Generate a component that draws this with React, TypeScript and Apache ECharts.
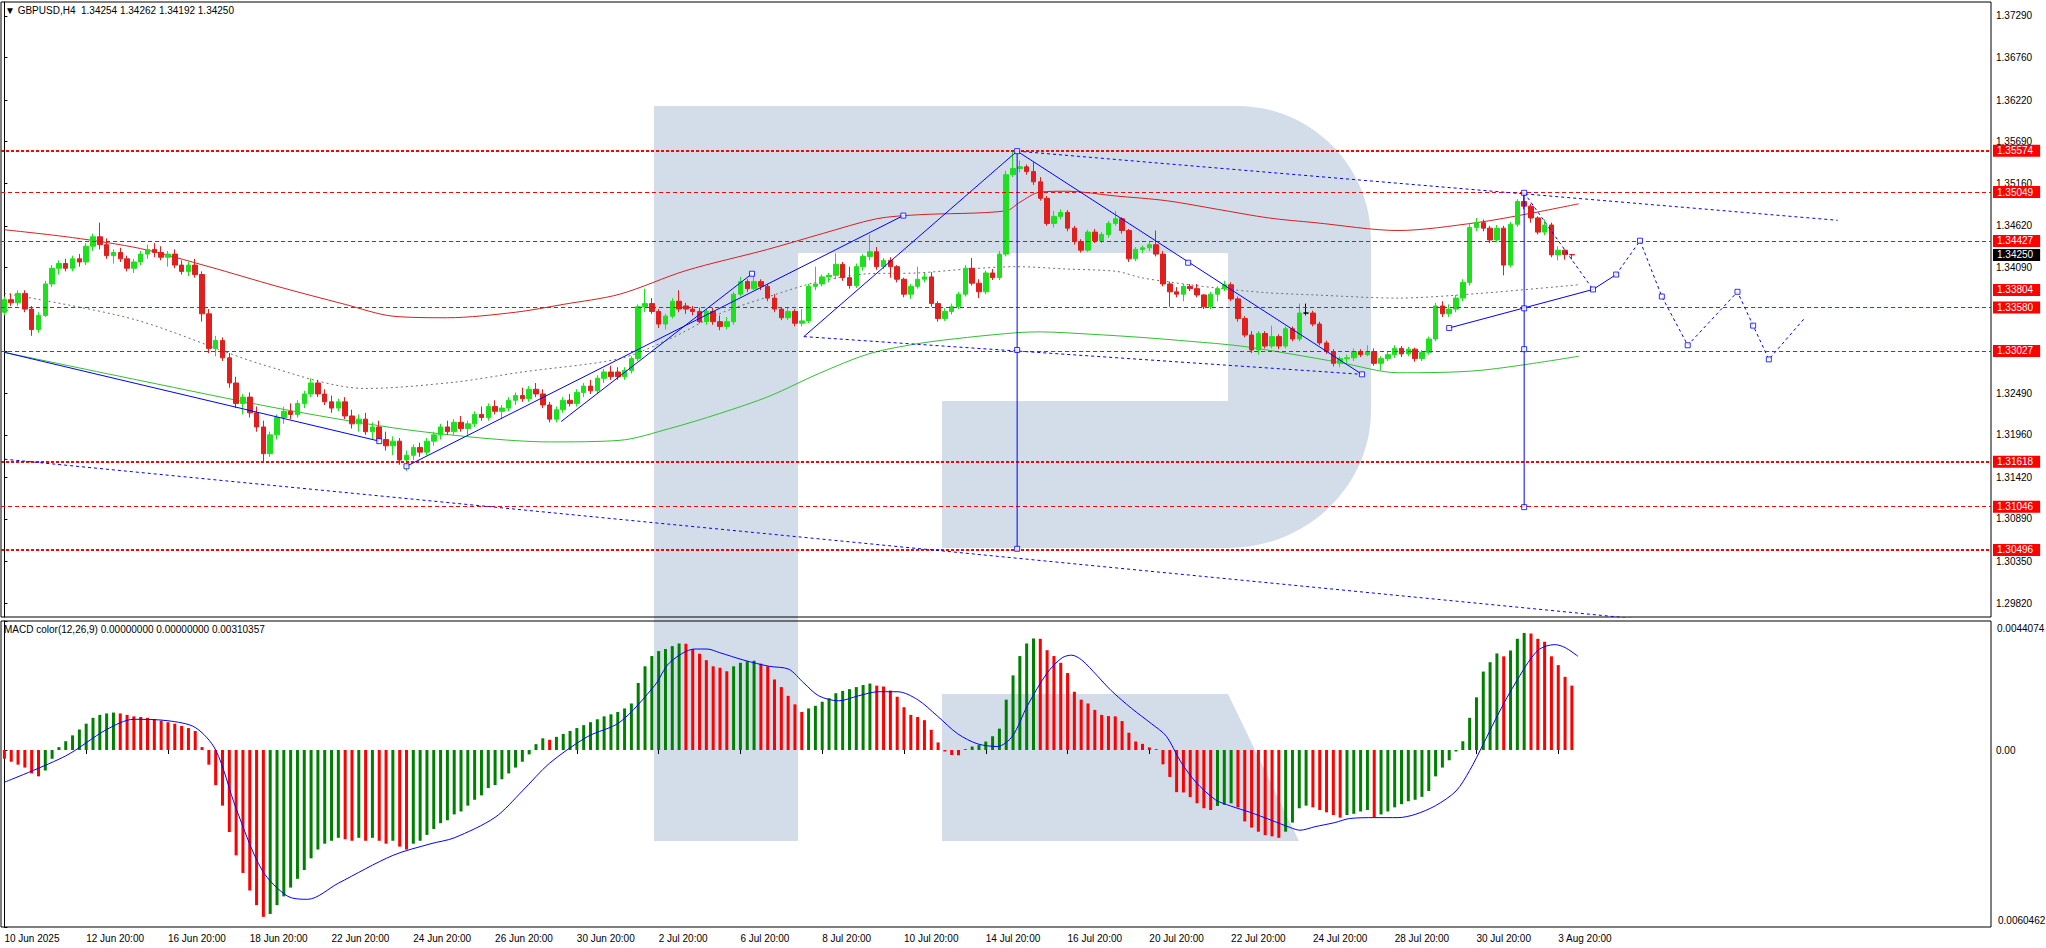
import React, { useEffect, useRef } from "react";
import * as echarts from "echarts";

const FONT = "'Liberation Sans', Arial, sans-serif";
const BASE = 1.3;
const PIP = 0.0001;
const N_CATS = 292;

// OHLC in pips above 1.3000 : [open, high, low, close]
const candles: number[][] = [
  [352,372,348,368],[368,376,360,364],[364,380,360,376],[376,380,352,356],[356,360,322,330],
  [330,352,326,348],[348,392,346,388],[388,412,384,408],[408,418,400,414],[414,420,404,408],
  [408,424,404,420],[420,426,410,416],[416,440,412,436],[436,452,430,448],[448,466,432,438],
  [438,446,420,424],[424,432,414,428],[428,434,416,420],[420,424,404,408],[408,420,402,416],
  [416,430,412,426],[426,438,420,432],[432,440,422,428],[428,436,418,422],[422,430,410,426],
  [426,432,408,412],[412,418,400,404],[404,416,398,412],[412,420,396,400],[400,404,340,350],
  [350,356,300,306],[306,322,296,316],[316,320,290,294],[294,300,256,262],[262,270,230,236],
  [236,248,222,244],[244,250,218,224],[224,232,200,206],[206,214,160,172],[172,200,168,196],
  [196,222,190,218],[218,232,210,226],[226,236,216,222],[222,240,218,236],[236,252,230,248],
  [248,268,244,262],[262,266,244,248],[248,254,234,238],[238,246,224,230],[230,242,226,238],
  [238,244,216,220],[220,228,204,210],[210,222,200,216],[216,224,196,200],[200,212,190,206],
  [206,214,186,190],[190,200,176,182],[182,194,170,188],[188,192,158,164],[164,176,150,170],
  [170,184,164,180],[180,186,168,174],[174,192,170,188],[188,200,182,196],[196,210,190,206],
  [206,214,196,200],[200,216,196,212],[212,220,200,204],[204,214,196,210],[210,226,206,222],
  [222,232,214,218],[218,236,214,232],[232,240,222,226],[226,234,216,230],[230,244,226,240],
  [240,250,234,246],[246,256,238,242],[242,258,238,254],[254,262,244,248],[248,254,230,234],
  [234,238,212,216],[216,232,212,228],[228,244,224,240],[240,248,232,236],[236,254,232,250],
  [250,262,244,258],[258,266,248,252],[252,272,248,268],[268,280,262,276],[276,284,266,270],
  [276,282,266,270],
  [270,282,266,278],[278,296,274,293],[293,362,290,359],[359,382,352,363],[363,370,350,353],
  [353,356,332,337],[337,350,330,347],[347,370,344,366],[366,380,352,356],[360,364,350,356],
  [356,360,348,353],[353,358,338,340],[340,356,336,353],[353,358,336,340],[340,348,329,334],
  [334,346,330,340],[340,378,336,375],[375,397,372,391],[391,394,378,382],[382,402,380,391],
  [391,394,380,385],[385,388,366,370],[370,375,352,356],[356,358,342,345],[345,358,342,353],
  [353,356,334,338],[338,356,334,341],[341,388,338,385],[385,410,380,388],[388,400,385,397],
  [397,402,390,399],[399,427,394,413],[413,416,392,396],[396,410,382,386],[386,414,383,410],
  [410,426,405,423],[423,451,418,429],[429,435,406,410],[410,421,407,418],[418,422,396,410],
  [410,412,390,394],[394,396,371,375],[375,388,369,385],[385,410,382,394],[394,402,390,397],
  [397,403,359,363],[363,366,340,344],[344,357,341,353],[353,363,349,359],[359,378,356,375],
  [375,412,372,408],[408,421,386,389],[389,394,370,378],[378,405,375,402],[402,407,393,396],
  [396,430,393,426],[426,532,423,527],[527,557,524,535],[535,545,530,537],[537,540,527,531],
  [531,543,514,518],[518,524,494,497],[497,500,462,465],[465,481,460,474],[474,483,470,479],
  [479,482,455,459],[459,462,438,442],[442,445,428,431],[431,457,429,454],[454,458,440,443],
  [443,454,440,451],[451,468,447,465],[465,481,462,471],[471,473,452,456],[456,458,416,420],
  [420,435,417,432],[432,437,427,434],[434,442,430,438],[438,456,423,426],[426,430,385,388],
  [388,391,359,378],[378,384,371,375],[375,388,366,385],[385,388,379,382],[382,388,371,374],
  [374,375,356,359],[359,378,356,375],[375,385,366,382],[382,392,379,387],[387,390,366,369],
  [369,372,340,344],[344,347,320,323],[323,328,300,304],[304,328,298,325],[325,328,306,309],
  [309,335,306,321],[321,324,305,309],[309,334,306,331],[331,334,315,318],[318,363,315,351],
  [351,363,348,351],[351,354,334,337],[337,340,310,313],[313,316,299,302],[302,305,283,287],
  [287,296,282,293],[293,298,287,294],[294,306,290,302],[302,305,295,298],[298,310,296,302],
  [302,306,284,287],[287,296,278,293],[293,302,290,298],[298,310,294,306],[306,309,295,299],
  [299,308,296,305],[305,307,289,293],[293,304,290,301],[301,321,298,318],[318,364,315,360],
  [360,366,346,350],[350,362,346,356],[356,374,352,370],[370,394,366,390],[390,465,386,460],
  [460,472,455,466],[466,470,455,459],[459,462,440,444],[444,463,441,459],[459,462,399,412],
  [412,467,409,464],[464,496,461,493],[493,504,483,487],[487,490,466,472],[472,474,451,454],
  [454,470,450,463],[463,466,422,425],[425,436,418,431],[431,432,419,425.4],[425.4,426.2,419.2,425.0],
];

// MACD histogram, in units of 0.0001
const macdHist: number[] = [
  -3,-4,-5,-6,-8,-9,-7,-3,1,3,
  5,7,9,11,12,12.5,12.8,12.5,12,11.5,
  11.3,11,10.6,10,9.5,9,8.2,7.5,6.5,1,
  -5,-12,-19,-28,-36,-42,-48,-53,-57,-56,
  -53,-50,-47,-44,-41,-37,-34,-32,-31,-30,
  -30.5,-31,-30,-31,-30,-31,-32,-31,-33,-34,
  -32,-31,-29,-27,-25,-24,-22,-21,-19,-17,
  -15.5,-13,-12,-10,-8,-6,-4,-1.5,2,4,
  3.5,4.5,5.5,6.5,7.5,8.5,9.5,10.5,11.5,12.2,
  13,
  14.2,15.9,22.9,28.6,32.1,33.8,34.5,35.5,36.4,36.3,
  34.5,32.9,30.7,28.6,28.1,26.9,28.6,29.8,30.3,30.5,
  29.5,28.6,24.1,21.5,18.5,15.6,13.0,14.2,15.1,16.5,
  17.7,19.4,20.2,20.8,21.5,22.2,22.7,22.0,21.7,20.3,
  18.2,14.6,12.0,11.3,10.2,6.9,2.6,-0.5,-1.7,-1.8,
  0.3,1.2,1.7,2.9,4.7,7.3,17.2,25.5,32.1,36.4,
  38.1,38.0,34.1,32.1,29.8,26.3,19.9,17.2,15.9,13.7,
  12.0,11.6,11.5,9.9,5.9,2.9,2.1,0.9,0.3,-4.9,
  -9.2,-14.4,-14.5,-16.1,-18.2,-19.9,-20.5,-19.1,-18.7,-18.2,
  -19.6,-24.4,-26.5,-27.9,-29.1,-29.5,-30.0,-27.9,-24.8,-19.9,
  -19.0,-19.6,-20.5,-21.3,-22.2,-23.1,-22.2,-21.8,-21.0,-20.5,
  -23.0,-22.0,-21.0,-19.6,
  -18.5,-17.5,-17.0,-16.0,-14.0,-9.0,-6.0,-3.5,-0.5,3.0,
  11.0,18.0,26.8,30.0,33.0,32.0,34.0,38.0,40.0,39.8,
  38.0,37.0,32.0,29.0,25.0,22.0,
];

// MACD signal line [bar, value in 0.0001]
const macdSignal: number[][] = [
  [0,-11],[9,-2],[15,7],[19,10.5],[24,10],[28,7.7],[31,0],[34,-20],[37.8,-41],[41.6,-50],
  [44.5,-51],[49,-45.5],[57,-36],[62.6,-32],[66,-30],[72,-23],[76,-14],[80,-4.5],[85.5,4.5],
  [90.3,9.5],[95.4,22],[97.6,29.8],[101.3,34.5],[103.1,34.5],[104.9,33.3],[108.5,30.7],
  [112.2,28.6],[115.1,27.6],[117.3,22.9],[119.5,18.5],[122.4,16.8],[125.3,18.5],[128.2,19.9],
  [131.1,19.9],[134,17.2],[136.9,11.6],[139.9,5.5],[142.8,2.1],[145.7,1.2],[147.9,4.7],
  [150.1,15.1],[153,26.3],[155.2,31.5],[156.6,32.4],[158.1,30.7],[160.3,25.5],[162.4,20.3],
  [165.4,14.2],[168.3,9.0],[170.5,4.7],[172.6,-4],[174.8,-10.9],[177.7,-17],[179.9,-19.1],
  [182.8,-21.3],[185.8,-23.9],[188.7,-26.5],[190.1,-27.4],[192.3,-26.2],[195.2,-24.8],
  [197.4,-23.4],[201,-23.1],[204.5,-23.1],[207,-22],[210,-19],[213,-14],[215,-7],[217,2],
  [218.8,10.5],[220.5,18],[222,24],[223.6,30],[225,34],[226.2,35.5],[227.5,36],[229,35],[230.9,32],
];

// Moving averages [bar, price]
const maRed: number[][] = [
  [0,1.3457],[10,1.3447],[20,1.3433],[30,1.3410],[40,1.3385],[50,1.3362],[57,1.3347],[65,1.3345],
  [75,1.3352],[82,1.3362],[90.3,1.3375],[100,1.3405],[112,1.3432],[120,1.3452],[128,1.3471],
  [134,1.3476],[147,1.3481],[149,1.3492],[152,1.3505],[156,1.3506],[163,1.3500],[170.5,1.3494],
  [178,1.3483],[185.5,1.3472],[192.3,1.3466],[204.5,1.3456],[216,1.3466],[224,1.3478],[231,1.3490],
];
const maGray: number[][] = [
  [0,1.3376],[19,1.3343],[38,1.3285],[53,1.3255],[66,1.3263],[76,1.3276],[90.3,1.3293],
  [97.6,1.3318],[104.9,1.3350],[112.2,1.3372],[119.5,1.3391],[126.8,1.3401],[134,1.3402],
  [141.3,1.3407],[148.6,1.3410],[155.9,1.3407],[163.2,1.3404],[166.8,1.3396],[170.5,1.3391],
  [177.7,1.3383],[185,1.3377],[192.3,1.3374],[204.5,1.3370],[216.5,1.3376],[231,1.3387],
];
const maGreen: number[][] = [
  [0,1.3301],[20,1.3265],[40,1.3230],[57,1.3205],[70,1.3192],[80,1.3187],[90.3,1.3189],
  [97.6,1.3204],[104.9,1.3223],[112.2,1.3245],[119.5,1.3274],[126.8,1.3299],[134,1.3312],
  [141.3,1.3320],[148.6,1.3326],[152,1.3327],[159.5,1.3324],[166.8,1.3320],[174,1.3315],
  [181.4,1.3309],[188.7,1.3299],[196,1.3288],[204.5,1.3275],[216.5,1.3278],[231,1.3296],
];

// Horizontal levels
const levelsThick = [1.35574, 1.31618, 1.30496];
const levelsThin = [1.35049, 1.34427, 1.3358, 1.33027, 1.31046];
const levelsLabelOnly = [1.33804];
const lastPrice = 1.3425;

const priceTicks = [1.3729,1.3676,1.3622,1.3569,1.3516,1.3462,1.3409,1.3355,1.3302,1.3249,1.3196,1.3142,1.3089,1.3035,1.2982];
const priceLabels = [1.3729,1.3676,1.3622,1.3569,1.3516,1.3462,1.3409,1.3249,1.3196,1.3142,1.3089,1.3035,1.2982];
const priceMin = 1.29642;
const priceMax = 1.37468;
const macdMax = 0.0044074;
const macdMin = -0.0060462;

const xLabelBars = [0,12,24,36,48,60,72,84,96,108,120,132,144,156,168,180,192,204,216,228];
const xLabelTexts = [
  "10 Jun 2025","12 Jun 20:00","16 Jun 20:00","18 Jun 20:00","22 Jun 20:00","24 Jun 20:00",
  "26 Jun 20:00","30 Jun 20:00","2 Jul 20:00","6 Jul 20:00","8 Jul 20:00","10 Jul 20:00",
  "14 Jul 20:00","16 Jul 20:00","20 Jul 20:00","22 Jul 20:00","24 Jul 20:00","28 Jul 20:00",
  "30 Jul 20:00","3 Aug 20:00",
];

// Analysis drawings [bar, price]
const solidSegs: number[][][] = [
  [[0,1.3301],[55,1.3188]],
  [[59,1.3156],[131.9,1.3475]],
  [[81.7,1.3213],[109.7,1.3401]],
  [[117.3,1.3321],[148.6,1.3557]],
  [[148.6,1.3557],[199.2,1.3273]],
  [[148.6,1.3557],[148.6,1.3051]],
  [[223,1.3504],[223,1.3104]],
  [[212,1.3332],[233.1,1.3381]],
  [[233.1,1.3381],[236.5,1.3400]],
];
const dashedSegs: number[][][] = [
  [[117.3,1.3321],[199.2,1.3273]],
  [[148.6,1.3557],[269,1.3469]],
  [[0,1.3165],[250,1.2953]],
  [[223,1.3504],[233.1,1.3381]],
  [[236.5,1.3400],[240,1.3443],[243.2,1.3372],[247,1.3310],[254.3,1.3378],[256.6,1.3335],[258.9,1.3292],[264.2,1.3345]],
];
const squares: number[][] = [
  [55,1.3188],[59,1.3156],[109.7,1.3401],[131.9,1.3475],[148.6,1.3557],[148.6,1.3304],[148.6,1.3051],
  [173.7,1.3415],[199.2,1.3273],[223,1.3504],[223,1.3357],[223,1.3305],[223,1.3104],[212,1.3332],
  [233.1,1.3381],[236.5,1.3400],[240,1.3443],[243.2,1.3372],[247,1.3310],[254.3,1.3378],[256.6,1.3335],[258.9,1.3292],
];

const headerText = "\u25BC GBPUSD,H4  1.34254 1.34262 1.34192 1.34250";
const macdTitle = "MACD color(12,26,9) 0.00000000 0.00000000 0.00310357";

const LOGO_D =
  "M798 106 L1237 106 C1311 106 1371 166 1371 239 L1371 410 C1371 486 1307 548 1228 548 " +
  "L942 548 L942 401 L1228 401 L1228 253 L798 253 Z";
let logoRegistered = false;

export default function App() {
  const ref = useRef<HTMLDivElement>(null);

  useEffect(() => {
    document.body.style.margin = "0";
    if (!logoRegistered) {
      echarts.graphic.registerShape("rfLogo", echarts.graphic.extendPath(LOGO_D, {}) as any);
      logoRegistered = true;
    }
    const chart = echarts.init(ref.current!, undefined, { renderer: "svg" });

    const cats = Array.from({ length: N_CATS }, (_, i) => String(i));
    const px = (p: number) => BASE + p * PIP;
    const candleData = candles.map((c) => [px(c[0]), px(c[3]), px(c[2]), px(c[1])]);
    const GREEN = "#1fe01f";
    const RED = "#e0201e";
    const macdBars = macdHist.map((v, i) => ({
      value: v * PIP,
      itemStyle: { color: i > 0 && v >= macdHist[i - 1] ? "#008000" : "#ff0000" },
    }));

    const lvlLabel = (bg: string, v: number) => ({
      show: true,
      position: "end",
      distance: 2,
      formatter: () => v.toFixed(5),
      backgroundColor: bg,
      color: "#ffffff",
      padding: [1, 7, 1, 4],
      fontSize: 10,
      lineHeight: 10,
      fontFamily: FONT,
    });
    const hiddenLine = { color: "rgba(255,255,255,0)", width: 1, type: "solid" };
    const markData: any[] = [
      ...levelsThick.map((v) => ({ yAxis: v, lineStyle: { color: "#ff0000", width: 2, type: [3, 2] }, label: lvlLabel("#ff0000", v) })),
      ...levelsThin.map((v) => ({ yAxis: v, lineStyle: { color: "#ff0000", width: 1, type: [4, 3] }, label: lvlLabel("#ff0000", v) })),
      ...levelsLabelOnly.map((v) => ({ yAxis: v, lineStyle: hiddenLine, label: lvlLabel("#ff0000", v) })),
      { yAxis: lastPrice, lineStyle: hiddenLine, label: lvlLabel("#000000", lastPrice) },
    ];

    const lineSeries = (data: number[][], color: string, type: any, width = 1, smooth: any = false) => ({
      type: "line",
      xAxisIndex: 1,
      yAxisIndex: 0,
      data,
      showSymbol: false,
      symbol: "none",
      smooth,
      silent: true,
      lineStyle: { color, width, type },
      z: 3,
    });

    const series: any[] = [
      lineSeries(maRed, "#d42020", "solid", 1, 0.3),
      lineSeries(maGray, "#6e6e6e", [2, 3], 1, 0.3),
      lineSeries(maGreen, "#30c030", "solid", 1, 0.3),
      {
        type: "candlestick",
        xAxisIndex: 0,
        yAxisIndex: 0,
        data: candleData,
        barWidth: 5,
        z: 4,
        itemStyle: {
          color: GREEN,
          color0: RED,
          borderColor: GREEN,
          borderColor0: RED,
          borderColorDoji: "#000000",
          borderWidth: 1,
        },
        markLine: {
          silent: true,
          precision: 6,
          symbol: ["none", "none"],
          animation: false,
          data: markData,
        },
      },
      ...solidSegs.map((s) => ({ ...lineSeries(s, "#0000ff", "solid"), z: 5 })),
      ...dashedSegs.map((s) => ({ ...lineSeries(s, "#0000ff", [3, 3]), z: 5 })),
      {
        type: "scatter",
        xAxisIndex: 1,
        yAxisIndex: 0,
        data: squares,
        symbol: "rect",
        symbolSize: 5,
        silent: true,
        z: 6,
        itemStyle: { color: "#ffffff", borderColor: "#0000ff", borderWidth: 1 },
      },
      {
        type: "bar",
        xAxisIndex: 2,
        yAxisIndex: 1,
        data: macdBars,
        barWidth: 3,
        silent: true,
      },
      {
        type: "line",
        xAxisIndex: 3,
        yAxisIndex: 1,
        data: macdSignal.map((d) => [d[0], d[1] * PIP]),
        showSymbol: false,
        symbol: "none",
        smooth: 0.3,
        silent: true,
        lineStyle: { color: "#0000ff", width: 1 },
        z: 5,
      },
    ];

    const option: any = {
      animation: false,
      backgroundColor: "#ffffff",
      textStyle: { fontFamily: FONT },
      grid: [
        { left: 1, top: 2, width: 1990, height: 615, show: true, borderColor: "#000", borderWidth: 1, backgroundColor: "transparent" },
        { left: 1, top: 621, width: 1990, height: 306, show: true, borderColor: "#000", borderWidth: 1, backgroundColor: "transparent" },
      ],
      xAxis: [
        { type: "category", gridIndex: 0, data: cats, show: false, boundaryGap: true },
        { type: "value", gridIndex: 0, min: -0.5, max: N_CATS - 0.5, show: false },
        {
          type: "category",
          gridIndex: 1,
          data: cats,
          boundaryGap: true,
          axisLine: { show: false },
          axisTick: {
            show: true,
            alignWithLabel: true,
            interval: (i: number) => xLabelBars.includes(i),
            length: 4,
            lineStyle: { color: "#000" },
          },
          axisLabel: {
            interval: (i: number) => xLabelBars.includes(i),
            formatter: (_v: string, i: number) => {
              const k = xLabelBars.indexOf(i);
              return k >= 0 ? xLabelTexts[k] : "";
            },
            align: "left",
            color: "#000",
            fontSize: 10,
            fontFamily: FONT,
            margin: 6,
          },
          splitLine: { show: false },
        },
        { type: "value", gridIndex: 1, min: -0.5, max: N_CATS - 0.5, show: false },
      ],
      yAxis: [
        {
          type: "value",
          gridIndex: 0,
          position: "right",
          min: priceMin,
          max: priceMax,
          axisLine: { show: true, lineStyle: { color: "#000" } },
          axisTick: { show: true, length: 3, customValues: priceTicks, lineStyle: { color: "#000" } },
          axisLabel: {
            customValues: priceLabels,
            formatter: (v: number) => v.toFixed(5),
            color: "#000",
            fontSize: 10,
            fontFamily: FONT,
            margin: 5,
          },
          splitLine: { show: false },
        },
        {
          type: "value",
          gridIndex: 1,
          position: "right",
          min: macdMin,
          max: macdMax,
          axisLine: { show: true, lineStyle: { color: "#000" } },
          axisTick: { show: true, length: 3, customValues: [macdMin, 0, macdMax], lineStyle: { color: "#000" } },
          axisLabel: {
            customValues: [0],
            formatter: () => "0.00",
            color: "#000",
            fontSize: 10,
            fontFamily: FONT,
            margin: 5,
          },
          splitLine: { show: false },
        },
      ],
      graphic: [
        { type: "rect", z: -10, silent: true, shape: { x: 654, y: 106, width: 144, height: 735 }, style: { fill: "#d3dde9" } },
        { type: "rfLogo", z: -10, silent: true, x: 0, y: 0, style: { fill: "#d3dde9" } },
        { type: "polygon", z: -10, silent: true, shape: { points: [[942, 694], [1228, 694], [1299, 841], [942, 841]] }, style: { fill: "#d3dde9" } },
        { type: "text", z: 20, silent: true, x: 5, y: 5, style: { text: headerText, fill: "#000", font: `10px ${FONT}` } },
        { type: "text", z: 20, silent: true, x: 4, y: 624, style: { text: macdTitle, fill: "#000", font: `10px ${FONT}` } },
        { type: "text", z: 20, silent: true, x: 1997, y: 623, style: { text: "0.0044074", fill: "#000", font: `10px ${FONT}` } },
        { type: "text", z: 20, silent: true, x: 1998, y: 915, style: { text: "0.0060462", fill: "#000", font: `10px ${FONT}` } },
      ],
      series,
    };

    chart.setOption(option);
    return () => chart.dispose();
  }, []);

  return <div ref={ref} style={{ width: 2046, height: 948 }} />;
}
